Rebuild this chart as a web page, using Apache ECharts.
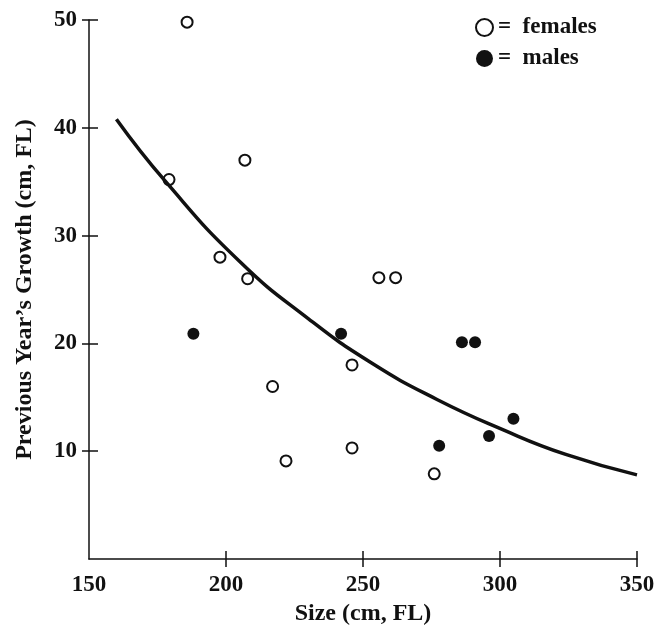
<!DOCTYPE html>
<html>
<head>
<meta charset="utf-8">
<script src="https://cdn.jsdelivr.net/npm/echarts@6/dist/echarts.min.js"></script>
<style>
  html, body { margin: 0; padding: 0; background: #fff; }
  #main { width: 662px; height: 632px; }
</style>
</head>
<body>
<div id="main"></div>
<script>
// values
var femaleSize = [185.8, 179.2, 206.9, 197.8, 207.9, 217.0, 221.9, 246.0, 246.0, 255.8, 261.9, 276.0];
var femaleGrowth = [49.8, 35.2, 37.0, 28.0, 26.0, 16.0, 9.1, 18.0, 10.3, 26.1, 26.1, 7.9];
var maleSize = [188.1, 242.0, 286.1, 290.9, 304.9, 296.0, 277.8];
var maleGrowth = [20.9, 20.9, 20.1, 20.1, 13.0, 11.4, 10.5];
// fitted curve
var curveSize = [160, 178, 205, 230, 253, 277, 301, 324, 350];
var curveGrowth = [40.8, 35.0, 27.6, 22.3, 18.2, 14.8, 12.0, 9.7, 7.8];
// tick positions
var xTicks = [200, 250, 300, 350];
var xLabels = [150, 200, 250, 300, 350];
var yTicks = [10, 20, 30, 40, 50];

var ink = '#111';
var font = '"Liberation Serif", "DejaVu Serif", serif';

function pairs(xs, ys) {
  return xs.map(function (x, i) { return [x, ys[i]]; });
}

var chart = echarts.init(document.getElementById('main'));

var baseX = { type: 'value', min: 150, max: 350, interval: 50, splitLine: { show: false } };
var baseY = { type: 'value', min: 0, max: 50, interval: 10, splitLine: { show: false } };

var option = {
  animation: false,
  grid: { left: 89, right: 25, top: 20, bottom: 73 },
  legend: {
    data: ['females', 'males'],
    orient: 'vertical',
    left: 475,
    top: 16,
    padding: 0,
    itemWidth: 17,
    itemHeight: 17,
    itemGap: 8,
    icon: 'circle',
    formatter: function (name) { return '=  ' + name; },
    textStyle: { fontFamily: font, fontWeight: 'bold', fontSize: 23, color: ink }
  },
  xAxis: [
    Object.assign({}, baseX, {
      name: 'Size (cm, FL)',
      nameLocation: 'middle',
      nameGap: 43,
      nameTextStyle: { fontFamily: font, fontWeight: 'bold', fontSize: 24, color: ink },
      axisLine: { lineStyle: { color: ink, width: 1.5 } },
      axisTick: { length: 8, customValues: xTicks, lineStyle: { color: ink, width: 1.5 } },
      axisLabel: { margin: 15, customValues: xLabels, fontFamily: font, fontWeight: 'bold', fontSize: 23, color: ink }
    }),
    Object.assign({}, baseX, {
      position: 'bottom',
      axisLine: { show: false },
      axisTick: { inside: true, length: 8, customValues: xTicks, lineStyle: { color: ink, width: 1.5 } },
      axisLabel: { show: false }
    })
  ],
  yAxis: [
    Object.assign({}, baseY, {
      name: 'Previous Year\u2019s Growth (cm, FL)',
      nameLocation: 'middle',
      nameGap: 52,
      nameTextStyle: { fontFamily: font, fontWeight: 'bold', fontSize: 24, color: ink },
      axisLine: { lineStyle: { color: ink, width: 1.5 } },
      axisTick: { length: 7, customValues: yTicks, lineStyle: { color: ink, width: 1.5 } },
      axisLabel: { margin: 12, customValues: yTicks, fontFamily: font, fontWeight: 'bold', fontSize: 23, color: ink }
    }),
    Object.assign({}, baseY, {
      position: 'left',
      axisLine: { show: false },
      axisTick: { inside: true, length: 9, customValues: yTicks, lineStyle: { color: ink, width: 1.5 } },
      axisLabel: { show: false }
    })
  ],
  series: [
    {
      name: 'females',
      type: 'scatter',
      symbol: 'circle',
      symbolSize: 11,
      itemStyle: { color: '#fff', borderColor: ink, borderWidth: 2, opacity: 1 },
      data: pairs(femaleSize, femaleGrowth),
      z: 2
    },
    {
      name: 'males',
      type: 'scatter',
      symbol: 'circle',
      symbolSize: 12,
      itemStyle: { color: ink, opacity: 1 },
      data: pairs(maleSize, maleGrowth),
      z: 2
    },
    {
      name: 'fit',
      type: 'line',
      smooth: true,
      showSymbol: false,
      lineStyle: { color: ink, width: 3.5 },
      data: pairs(curveSize, curveGrowth),
      z: 3
    }
  ]
};

chart.setOption(option);
</script>
</body>
</html>
